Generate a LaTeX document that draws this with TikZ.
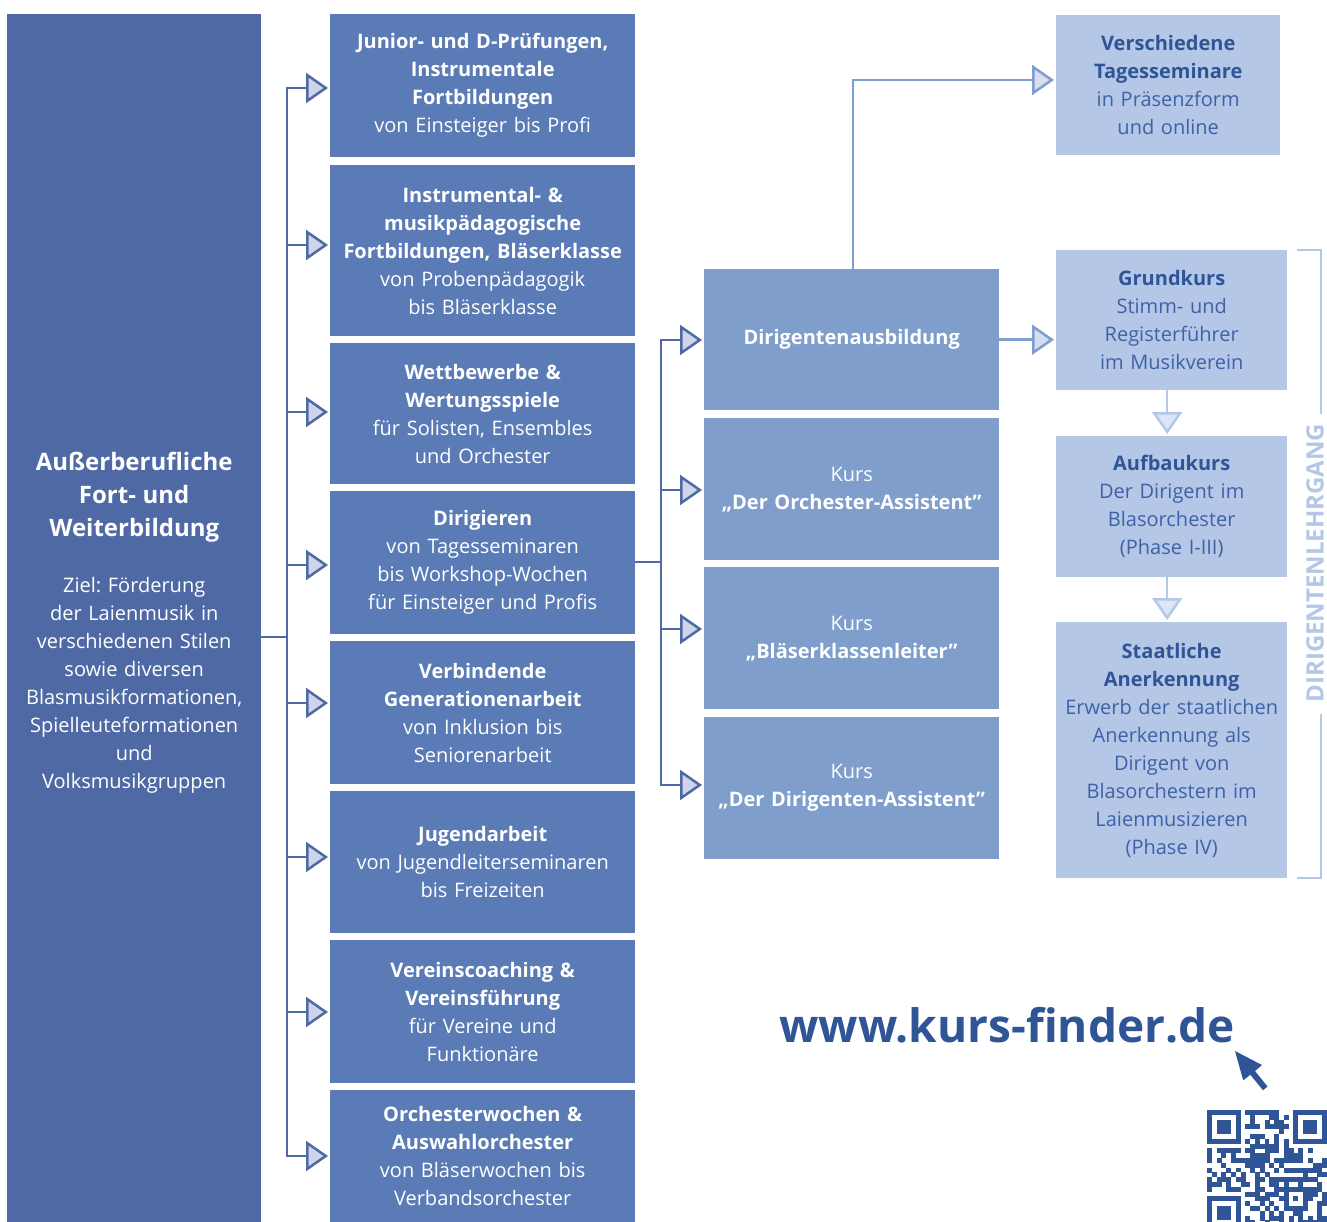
\documentclass[tikz,border=0pt]{standalone}
\usepackage{fontspec}
\setmainfont{Open Sans}
\usetikzlibrary{arrows.meta}
\setlength{\parindent}{0pt}
\setlength{\parskip}{0pt}
\frenchspacing
\definecolor{cLeft}{HTML}{4F69A5}
\definecolor{cTwo}{HTML}{5A7BB6}
\definecolor{cThree}{HTML}{7F9ECC}
\definecolor{cFour}{HTML}{B4C7E7}
\definecolor{cDark}{HTML}{4F69A5}
\definecolor{cDarkFill}{HTML}{D0D4EA}
\definecolor{cMidFill}{HTML}{D6DDF0}
\definecolor{cPaleFill}{HTML}{DDE6F5}
\definecolor{cTitle}{HTML}{2F5597}
\definecolor{cBody}{HTML}{3F61A7}
\definecolor{cBrand}{HTML}{2F5597}
\begin{document}
\begin{tikzpicture}[x=1pt,y=-1pt,
 box/.style={anchor=north west, inner sep=0pt, align=center, font=\fontsize{20}{28}\selectfont\frenchspacing},
 boxtwo/.style={box, fill=cTwo, text=white, minimum width=305pt, text width=305pt},
 boxthree/.style={box, fill=cThree, text=white, minimum width=295pt, text width=295pt},
 boxfour/.style={box, fill=cFour, text=cBody, minimum width=231pt, text width=231pt},
 dline/.style={draw=cDark, line width=2.5pt},
 darr/.style={dline, shorten >=2pt, -{Triangle[length=22pt,width=30pt,fill=cDarkFill]}},
 mline/.style={draw=cThree, line width=2.5pt},
 marr/.style={mline, shorten >=2pt, -{Triangle[length=22pt,width=30pt,fill=cMidFill]}},
 parr/.style={draw=cFour, line width=2.5pt, shorten >=2pt, -{Triangle[length=22pt,width=30pt,fill=cPaleFill]}},
 brk/.style={draw=cFour, line width=2pt},
 qr/.style={fill=cBrand}]
\useasboundingbox (0,0) rectangle (1327,1222);
\clip (0,0) rectangle (1327,1222);

% left box (runs past the lower edge, as in the reference)
\node[box, fill=cLeft, text=white, minimum width=254pt, minimum height=1218pt, text width=250pt] (lbox) at (7,14)
 {{\fontsize{24}{33}\selectfont\bfseries Außerberufliche\\Fort- und\\Weiterbildung\par}\vspace{28pt}Ziel: Förderung\\der Laienmusik in\\verschiedenen Stilen\\sowie diversen\\Blasmusikformationen,\\Spielleuteformationen\\und\\Volksmusikgruppen};

% column two
\node[boxtwo, minimum height=143pt] (b1) at (330,14) {{\bfseries Junior- und D-Prüfungen,\\Instrumentale\\Fortbildungen}\\von Einsteiger bis Profi};
\node[boxtwo, minimum height=171pt] (b2) at (330,165) {{\bfseries Instrumental- \&\\musikpädagogische\\Fortbildungen, Bläserklasse}\\von Probenpädagogik\\bis Bläserklasse};
\node[boxtwo, minimum height=141pt] (b3) at (330,343) {{\bfseries Wettbewerbe \&\\Wertungsspiele}\\für Solisten, Ensembles\\und Orchester};
\node[boxtwo, minimum height=143pt] (b4) at (330,491) {{\bfseries Dirigieren}\\von Tagesseminaren\\bis Workshop-Wochen\\für Einsteiger und Profis};
\node[boxtwo, minimum height=143pt] (b5) at (330,641) {{\bfseries Verbindende\\Generationenarbeit}\\von Inklusion bis\\Seniorenarbeit};
\node[boxtwo, minimum height=142pt] (b6) at (330,791) {{\bfseries Jugendarbeit}\\von Jugendleiterseminaren\\bis Freizeiten};
\node[boxtwo, minimum height=143pt] (b7) at (330,940) {{\bfseries Vereinscoaching \&\\Vereinsführung}\\für Vereine und\\Funktionäre};
\node[boxtwo, minimum height=132pt] (b8) at (330,1090) {{\bfseries Orchesterwochen \&\\Auswahlorchester}\\von Bläserwochen bis\\Verbandsorchester};

% column three
\node[boxthree, minimum height=141pt] (d1) at (704,269) {\bfseries Dirigentenausbildung};
\node[boxthree, minimum height=142pt] (d2) at (704,418) {Kurs\\{\bfseries „Der Orchester-Assistent”}};
\node[boxthree, minimum height=142pt] (d3) at (704,567) {Kurs\\{\bfseries „Bläserklassenleiter”}};
\node[boxthree, minimum height=142pt] (d4) at (704,717) {Kurs\\{\bfseries „Der Dirigenten-Assistent”}};

% column four
\node[boxfour, minimum width=224pt, text width=224pt, minimum height=140pt] (T) at (1056,15) {{\bfseries\color{cTitle}Verschiedene\\Tagesseminare}\\in Präsenzform\\und online};
\node[boxfour, minimum height=140pt] (G) at (1056,250) {{\bfseries\color{cTitle}Grundkurs}\\Stimm- und\\Registerführer\\im Musikverein};
\node[boxfour, minimum height=141pt] (A) at (1056,436) {{\bfseries\color{cTitle}Aufbaukurs}\\Der Dirigent im\\Blasorchester\\(Phase I-III)};
\node[boxfour, minimum height=256pt] (S) at (1056,622) {{\bfseries\color{cTitle}Staatliche\\Anerkennung}\\Erwerb der staatlichen\\Anerkennung als\\Dirigent von\\Blasorchestern im\\Laienmusizieren\\(Phase IV)};

% connectors left trunk
\coordinate (tm) at (287,637);
\coordinate (t1) at (287,88);
\coordinate (t2) at (287,245);
\coordinate (t3) at (287,412);
\coordinate (t4) at (287,565);
\coordinate (t5) at (287,703);
\coordinate (t6) at (287,857);
\coordinate (t7) at (287,1012);
\coordinate (t8) at (287,1156);
\draw[dline] (lbox.east |- tm) -- (tm);
\draw[dline, line cap=rect] (t1) -- (t8);
\foreach \i in {1,...,8} \draw[darr] (t\i) -- (t\i -| b\i.west);

% connectors to column three
\coordinate (u0) at (661,562);
\coordinate (u1) at (661,340);
\coordinate (u2) at (661,490);
\coordinate (u3) at (661,629);
\coordinate (u4) at (661,785);
\draw[dline] (b4.east |- u0) -- (u0);
\draw[dline, line cap=rect] (u1) -- (u4);
\foreach \i in {1,...,4} \draw[darr] (u\i) -- (u\i -| d\i.west);

% connectors to column four
\coordinate (v1) at (853,80);
\draw[marr] (d1.north -| v1) -- (v1) -- (v1 -| T.west);
\draw[marr] (d1.east) -- (d1.east -| G.west);
\draw[parr] ([xshift=-4.5pt]G.south) -- ([xshift=-4.5pt]A.north);
\draw[parr] ([xshift=-4.5pt]A.south) -- ([xshift=-4.5pt]S.north);

% bracket
\draw[brk] ([xshift=10pt]G.north east) -- ++(24,0) -- ++(0,164);
\draw[brk] ([xshift=10pt]S.south east) -- ++(24,0) -- ++(0,-164);
\node[rotate=90, text=cFour, inner sep=0pt, font=\fontsize{24}{28}\selectfont\bfseries] (lg) at (1315,563) {DIRIGENTENLEHRGANG};

% web address
\node[anchor=base, inner sep=0pt, text=cBrand, font=\fontsize{46}{52}\selectfont\bfseries] (www) at (1007,1042) {www.kurs-finder.de};

% cursor
\fill[cBrand] (1235,1051) -- (1262,1065) -- (1255,1071) -- (1267.5,1086.5) -- (1263,1090.3) -- (1250.3,1074.7) -- (1243.2,1080.4) -- cycle;

% QR code
\begin{scope}[shift={(1207,1110)}, x=4.8pt, y=-4.8pt]
 \foreach \qa/\qb in {0/0,18/0,0/18}{
  \fill[qr] (\qa,\qb) rectangle ++(7,7);
  \fill[white] (\qa+1,\qb+1) rectangle ++(5,5);
  \fill[qr] (\qa+2,\qb+2) rectangle ++(3,3);
 }
 \fill[qr] (16,16) rectangle ++(5,5);
 \fill[white] (17,17) rectangle ++(3,3);
 \fill[qr] (18,18) rectangle ++(1,1);
 \foreach \qk in {8,10,12,14,16}{
  \fill[qr] (\qk,6) rectangle ++(1,1);
  \fill[qr] (6,\qk) rectangle ++(1,1);
 }
 \pgfmathsetseed{4711}
 \foreach \qi in {0,...,24}{\foreach \qj in {0,...,24}{%
  \pgfmathtruncatemacro\qres{((\qi<8)&&(\qj<8))||((\qi<8)&&(\qj>16))||((\qi>16)&&(\qj<8))||((\qi>15)&&(\qi<21)&&(\qj>15)&&(\qj<21))||(\qi==6)||(\qj==6)||(\qi==7&&\qj<9)||(\qj==7&&\qi<9)||(\qi==17&&\qj<8)||(\qj==17&&\qi<8)||(\qj==7&&\qi>16)||(\qi==7&&\qj>16)}%
  \pgfmathrandominteger{\qv}{0}{99}%
  \ifnum\qres=0 \ifnum\qv<50 \fill[qr] (\qi,\qj) rectangle ++(1.05,1.05);\fi\fi
 }}
\end{scope}
\end{tikzpicture}
\end{document}
